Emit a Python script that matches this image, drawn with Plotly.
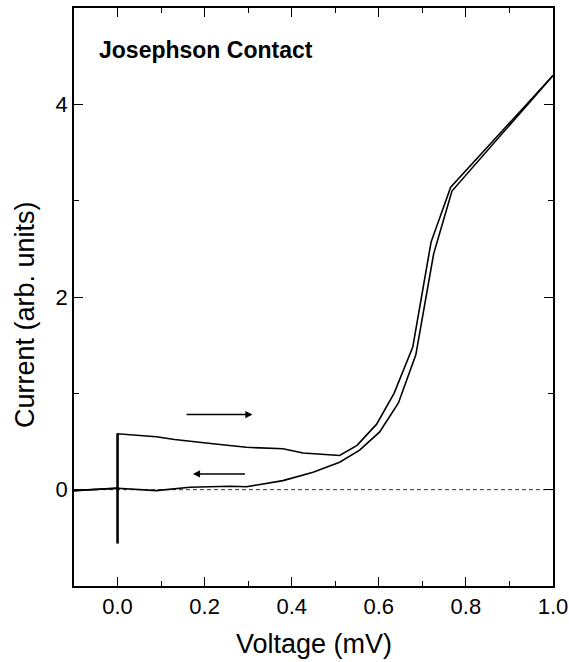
import plotly.graph_objects as go

# Forward sweep (increasing voltage)
v_up = [-0.1, -0.05, 0.0, 0.0, 0.0, 0.089, 0.131, 0.219, 0.296, 0.38, 0.426, 0.51,
        0.55, 0.595, 0.635, 0.678, 0.72, 0.765, 1.0]
i_up = [-0.01, 0.0, 0.015, -0.55, 0.58, 0.55, 0.52, 0.476, 0.44, 0.424, 0.38, 0.354,
        0.46, 0.68, 1.0, 1.48, 2.57, 3.14, 4.3]

# Return sweep (decreasing voltage)
v_dn = [1.0, 0.768, 0.726, 0.685, 0.645, 0.602, 0.556, 0.51, 0.449, 0.38, 0.296,
        0.258, 0.166, 0.089, 0.0, -0.05, -0.1]
i_dn = [4.3, 3.1, 2.45, 1.4, 0.9, 0.6, 0.41, 0.285, 0.18, 0.094, 0.03,
        0.035, 0.025, -0.01, 0.015, 0.0, -0.01]

# Supercurrent spike at zero voltage
v_spike = [0.0, 0.0]
i_spike = [-0.56, 0.58]

# Zero reference
v_zero = [-0.1, 1.0]
i_zero = [0.0, 0.0]

FONT = "Liberation Sans, Arial"

fig = go.Figure()
fig.add_trace(go.Scatter(x=v_zero, y=i_zero, mode="lines",
                         line=dict(color="#333333", width=1, dash="4px,3px"),
                         showlegend=False, hoverinfo="skip"))
fig.add_trace(go.Scatter(x=v_up, y=i_up, mode="lines",
                         line=dict(color="black", width=1.6), showlegend=False))
fig.add_trace(go.Scatter(x=v_dn, y=i_dn, mode="lines",
                         line=dict(color="black", width=1.6), showlegend=False))
fig.add_trace(go.Scatter(x=v_spike, y=i_spike, mode="lines",
                         line=dict(color="black", width=2.4), showlegend=False))

# Direction arrows
fig.add_annotation(x=0.31, y=0.78, ax=0.155, ay=0.78, xref="x", yref="y",
                   axref="x", ayref="y", text="", showarrow=True,
                   arrowhead=2, arrowsize=0.9, arrowwidth=1.6, arrowcolor="black")
fig.add_annotation(x=0.173, y=0.163, ax=0.296, ay=0.163, xref="x", yref="y",
                   axref="x", ayref="y", text="", showarrow=True,
                   arrowhead=2, arrowsize=0.9, arrowwidth=1.6, arrowcolor="black")

fig.add_annotation(x=-0.047, y=4.56, xref="x", yref="y", text="<b>Josephson Contact</b>",
                   showarrow=False, xanchor="left", yanchor="middle",
                   font=dict(family=FONT, size=23, color="black"))

# Axis titles
fig.add_annotation(x=0.5, y=-0.1005, xref="paper", yref="paper", text="Voltage (mV)",
                   showarrow=False, xanchor="center", yanchor="middle",
                   font=dict(family=FONT, size=27, color="black"))
fig.add_annotation(x=-0.1023, y=0.4706, xref="paper", yref="paper",
                   text="Current (arb. units)", textangle=-90,
                   showarrow=False, xanchor="center", yanchor="middle",
                   font=dict(family=FONT, size=27, color="black"))

axis_common = dict(showgrid=False, zeroline=False, showline=True, linecolor="black",
                   linewidth=1.5, mirror="ticks", ticks="inside", ticklen=9,
                   tickwidth=1.3, tickcolor="black", automargin=False,
                   tickfont=dict(family=FONT, size=22, color="black"))

fig.update_xaxes(range=[-0.1, 1.0], dtick=0.2, tick0=0, tickformat=".1f",
                 minor=dict(dtick=0.1, ticks="inside", ticklen=5, tickcolor="black", tickwidth=1.2),
                 **axis_common)
fig.update_yaxes(range=[-1, 5], dtick=2, tick0=0,
                 minor=dict(dtick=1, ticks="inside", ticklen=5, tickcolor="black", tickwidth=1.2),
                 **axis_common)

fig.update_layout(width=569, height=662, plot_bgcolor="white", paper_bgcolor="white",
                  margin=dict(l=74, r=16, t=8, b=76), showlegend=False)

fig.write_html("out.html", config={"displayModeBar": False},
               post_script="document.body.style.margin='0';document.body.style.overflow='hidden';")
